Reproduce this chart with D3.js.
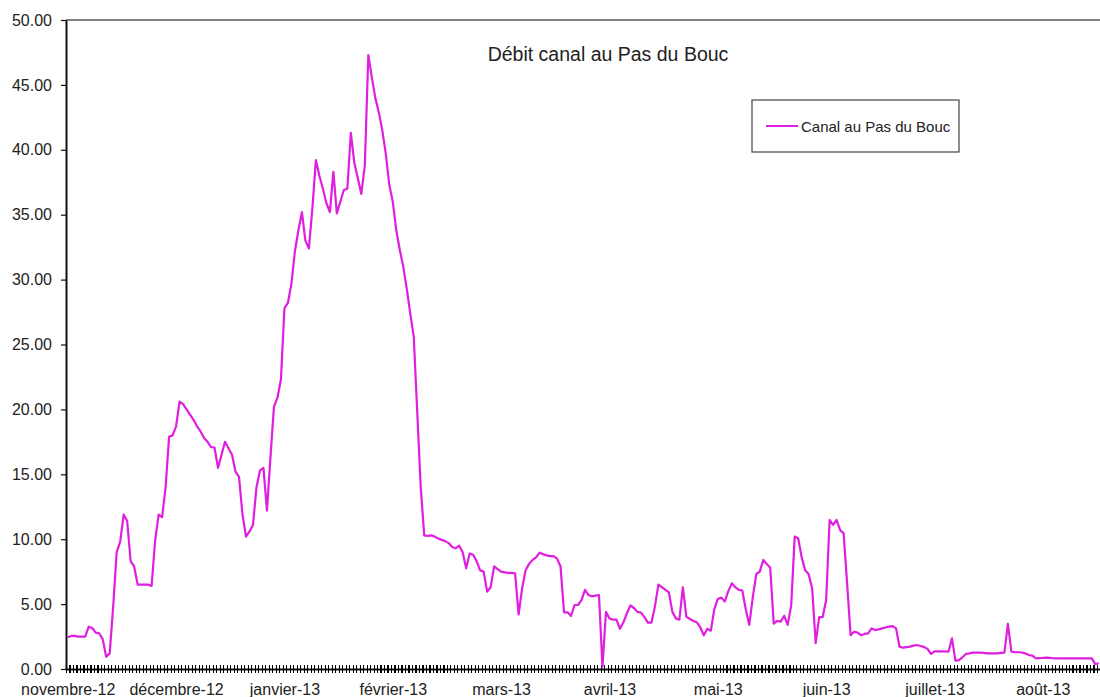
<!DOCTYPE html>
<html>
<head>
<meta charset="utf-8">
<script src="https://cdn.jsdelivr.net/npm/d3@7"></script>
<style>
  body { margin: 0; background: #fff; }
  svg { display: block; font-family: "Liberation Sans", Arial, sans-serif; }
</style>
</head>
<body>
<svg id="chart" width="1100" height="697"></svg>
<script>
// ---------------- data ----------------
const startDate = "2012-11-01";           // first daily value
const flow = [                             // débit (m3/s), one value per day
  2.44, 2.55, 2.55, 2.5, 2.5, 2.5, 3.26, 3.16, 2.8, 2.75,
  2.3, 0.95, 1.2, 4.8, 9.0, 9.8, 11.9, 11.4, 8.3, 7.9,
  6.5, 6.5, 6.5, 6.5, 6.4, 9.9, 11.9, 11.7, 14.0, 17.9,
  18.0, 18.7, 20.6, 20.4, 20.0, 19.6, 19.2, 18.7, 18.3, 17.8,
  17.5, 17.1, 17.05, 15.5, 16.5, 17.5, 17.0, 16.5, 15.2, 14.8,
  11.9, 10.2, 10.6, 11.1, 14.0, 15.3, 15.5, 12.2, 16.3, 20.2,
  20.9, 22.3, 27.8, 28.2, 29.7, 32.2, 33.8, 35.2, 33.0, 32.4,
  35.5, 39.2, 38.0, 37.0, 35.9, 35.2, 38.3, 35.1, 36.0, 36.9,
  37.0, 41.3, 39.0, 37.8, 36.6, 38.8, 47.3, 45.6, 44.0, 42.9,
  41.5, 39.7, 37.3, 36.0, 33.8, 32.3, 31.0, 29.3, 27.4, 25.6,
  19.8, 14.0, 10.3, 10.25, 10.3, 10.2, 10.05, 9.95, 9.85, 9.7,
  9.4, 9.3, 9.5, 9.0, 7.76, 8.9, 8.8, 8.3, 7.6, 7.5,
  5.96, 6.3, 7.9, 7.7, 7.5, 7.45, 7.4, 7.4, 7.37, 4.2,
  6.2, 7.6, 8.1, 8.4, 8.6, 8.96, 8.85, 8.75, 8.7, 8.7,
  8.5, 7.9, 4.37, 4.37, 4.08, 4.93, 4.93, 5.3, 6.1, 5.7,
  5.6, 5.65, 5.7, 0.18, 4.4, 3.9, 3.8, 3.8, 3.1, 3.6,
  4.3, 4.9, 4.7, 4.4, 4.34, 4.0, 3.57, 3.57, 4.8, 6.5,
  6.3, 6.1, 5.9, 4.4, 3.9, 3.8, 6.3, 4.03, 3.85, 3.7,
  3.6, 3.2, 2.6, 3.1, 2.95, 4.6, 5.4, 5.5, 5.2, 6.0,
  6.6, 6.3, 6.1, 6.05, 4.6, 3.4, 5.5, 7.3, 7.5, 8.4,
  8.1, 7.8, 3.5, 3.7, 3.65, 4.1, 3.4, 4.9, 10.2, 10.07,
  8.6, 7.6, 7.3, 6.2, 2.0, 4.0, 4.0, 5.3, 11.48, 11.1,
  11.48, 10.7, 10.45, 6.6, 2.6, 2.87, 2.8, 2.6, 2.7, 2.75,
  3.13, 3.0, 3.05, 3.13, 3.2, 3.26, 3.3, 3.13, 1.72, 1.64,
  1.68, 1.72, 1.8, 1.85, 1.77, 1.7, 1.55, 1.16, 1.36, 1.36,
  1.36, 1.36, 1.33, 2.36, 0.64, 0.69, 0.9, 1.16, 1.2, 1.26,
  1.26, 1.26, 1.24, 1.21, 1.21, 1.21, 1.21, 1.24, 1.26, 3.47,
  1.33, 1.3, 1.29, 1.27, 1.2, 1.08, 1.03, 0.82, 0.84, 0.85,
  0.87, 0.85, 0.83, 0.82, 0.82, 0.82, 0.82, 0.82, 0.82, 0.82,
  0.82, 0.82, 0.82, 0.82, 0.38, 0.44
];
const monthLabels = ["novembre-12", "décembre-12", "janvier-13", "février-13", "mars-13",
                     "avril-13", "mai-13", "juin-13", "juillet-13", "août-13"];
const labelInterval = 31;                  // one category label every 31 days
const yTicks = [0, 5, 10, 15, 20, 25, 30, 35, 40, 45, 50];
const chartTitle = "Débit canal au Pas du Bouc";
const seriesName = "Canal au Pas du Bouc";

// ---------------- chart ----------------
const svg = d3.select("#chart");
const W = 1100, H = 697;
const plot = { left: 66, right: 1100.5, top: 20, bottom: 669 };
const lineColor = "#e01ee0";
const textColor = "#222";

const start = d3.utcParse("%Y-%m-%d")(startDate);
const dates = flow.map((_, i) => d3.utcDay.offset(start, i));
const data = flow.map((v, i) => ({ date: dates[i], value: v }));

const x = d3.scaleUtc()
  .domain([d3.utcHour.offset(dates[0], -12), d3.utcHour.offset(dates[dates.length - 1], 12)])
  .range([plot.left, plot.right]);
const y = d3.scaleLinear().domain([0, 50]).range([plot.bottom, plot.top]);

svg.append("rect").attr("width", W).attr("height", H).attr("fill", "#fff");

// top frame line
svg.append("line")
  .attr("x1", plot.left).attr("x2", W)
  .attr("y1", y(50)).attr("y2", y(50))
  .attr("stroke", "#808080").attr("stroke-width", 2);

// Y axis
const yAxis = svg.append("g")
  .attr("transform", `translate(${plot.left},0)`)
  .call(d3.axisLeft(y).tickValues(yTicks).tickFormat(d3.format(".2f"))
    .tickSize(5).tickSizeOuter(0).tickPadding(9));
yAxis.select(".domain").attr("stroke", "#111").attr("stroke-width", 2);
yAxis.selectAll(".tick line").attr("stroke", "#111").attr("stroke-width", 1.2);
yAxis.selectAll(".tick text").attr("fill", textColor).style("font-size", "16px")
  .style("font-family", "'Liberation Sans', Arial, sans-serif");

// X axis: daily cross tick marks
const boundaries = dates.map(d => d3.utcHour.offset(d, -12));
boundaries.push(d3.utcHour.offset(dates[dates.length - 1], 12));
const xAxis = svg.append("g")
  .attr("transform", `translate(0,${plot.bottom})`)
  .call(d3.axisBottom(x).tickValues(boundaries).tickFormat(() => "").tickSize(4).tickSizeOuter(0));
xAxis.select(".domain").attr("stroke", "#111").attr("stroke-width", 2);
xAxis.selectAll(".tick line").attr("y1", -4).attr("y2", 4)
  .attr("stroke", "#000").attr("stroke-width", 1.1)
  .attr("shape-rendering", "crispEdges");

// X axis: month labels every 31 categories
const labelDates = monthLabels.map((_, k) => dates[k * labelInterval]);
const xLab = svg.append("g")
  .attr("transform", `translate(0,${plot.bottom})`)
  .call(d3.axisBottom(x).tickValues(labelDates)
    .tickFormat((d, i) => monthLabels[i]).tickSize(0).tickPadding(14.6));
xLab.select(".domain").remove();
xLab.selectAll(".tick text").attr("fill", textColor).style("font-size", "16px")
  .style("font-family", "'Liberation Sans', Arial, sans-serif");

// data line
const line = d3.line().x(d => x(d.date)).y(d => y(d.value));
svg.append("path")
  .datum(data)
  .attr("fill", "none")
  .attr("stroke", lineColor)
  .attr("stroke-width", 2.2)
  .attr("stroke-linejoin", "round")
  .attr("d", line);

// title
svg.append("text")
  .attr("x", 608).attr("y", 60.5)
  .attr("text-anchor", "middle")
  .attr("fill", textColor)
  .style("font-size", "19.5px")
  .text(chartTitle);

// legend
const lg = svg.append("g");
lg.append("rect")
  .attr("x", 752).attr("y", 100).attr("width", 207).attr("height", 52)
  .attr("fill", "#fff").attr("stroke", "#444").attr("stroke-width", 1.2);
lg.append("line")
  .attr("x1", 766).attr("x2", 798).attr("y1", 126).attr("y2", 126)
  .attr("stroke", lineColor).attr("stroke-width", 2);
lg.append("text")
  .attr("x", 801).attr("y", 131.5)
  .attr("fill", textColor)
  .style("font-size", "15px")
  .text(seriesName);
</script>
</body>
</html>
